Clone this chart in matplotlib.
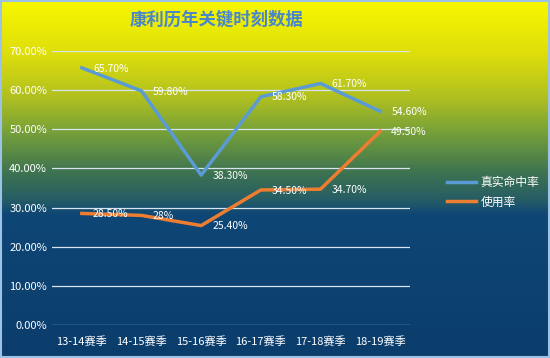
import matplotlib
matplotlib.use("Agg")

import numpy as np
import matplotlib.pyplot as plt
from matplotlib.colors import LinearSegmentedColormap

plt.rcParams['font.family'] = ['Noto Sans CJK SC', 'DejaVu Sans']

seasons = ["13-14赛季", "14-15赛季", "15-16赛季", "16-17赛季", "17-18赛季", "18-19赛季"]
hit_rate = [65.7, 59.8, 38.3, 58.3, 61.7, 54.6]
use_rate = [28.5, 28.0, 25.4, 34.5, 34.7, 49.5]
hit_labels = ["65.70%", "59.80%", "38.30%", "58.30%", "61.70%", "54.60%"]
use_labels = ["28.50%", "28%", "25.40%", "34.50%", "34.70%", "49.50%"]

fig = plt.figure(figsize=(5.5, 3.58), dpi=100)

# фон-градиент на всю картинку
bg = fig.add_axes([0, 0, 1, 1])
cmap = LinearSegmentedColormap.from_list("bg", [
    (0.0, "#f8f800"), (0.15, "#dede0c"), (0.27, "#b0c020"), (0.37, "#76a03a"),
    (0.48, "#3e7450"), (0.56, "#255c66"), (0.60, "#0e4676"), (1.0, "#0b3d6c")])
grad = np.linspace(0, 1, 256).reshape(-1, 1)
bg.imshow(grad, aspect="auto", cmap=cmap, extent=[0, 1, 0, 1], origin="upper")
bg.set_xlim(0, 1)
bg.set_ylim(0, 1)
bg.axis("off")
bg.add_patch(plt.Rectangle((0.001, 0.002), 0.997, 0.995, fill=False,
                           edgecolor="#9cc3e6", lw=1.5))

ax = fig.add_axes([52 / 550, 1 - 325 / 358, 358 / 550, 274 / 358])
ax.patch.set_alpha(0)
x = np.arange(len(seasons))
ax.plot(x, hit_rate, color="#5b9bd5", lw=2.5, label="真实命中率")
ax.plot(x, use_rate, color="#ed7d31", lw=2.5, label="使用率")

for i in range(len(seasons)):
    ax.annotate(hit_labels[i], (x[i], hit_rate[i]), xytext=(8, -0.5),
                textcoords="offset points", color="white", fontsize=7.5, va="center")
    ax.annotate(use_labels[i], (x[i], use_rate[i]), xytext=(8, -0.5),
                textcoords="offset points", color="white", fontsize=7.5, va="center")

ax.set_xlim(-0.5, 5.5)
ax.set_ylim(0, 70)
ax.set_yticks(range(0, 71, 10))
ax.set_yticklabels([f"{v:.2f}%" for v in range(0, 71, 10)])
ax.set_xticks(x)
ax.set_xticklabels(seasons)
ax.grid(axis="y", color="#d8e4f0", lw=0.9)
ax.set_axisbelow(True)
ax.tick_params(length=0, colors="white", labelsize=8)
ax.tick_params(axis="x", pad=8)
for s in ax.spines.values():
    s.set_visible(False)

fig.text(217 / 550, 1 - 20 / 358, "康利历年关键时刻数据", color="#4a86c8",
         fontsize=12.5, fontweight="bold", ha="center", va="center")

leg = ax.legend(loc="center left", bbox_to_anchor=(1.075, 0.485), frameon=False,
                fontsize=8.5, handlelength=2.4, handletextpad=0.4, labelspacing=0.55)
for t in leg.get_texts():
    t.set_color("white")

fig.savefig("out.png", dpi=100)
